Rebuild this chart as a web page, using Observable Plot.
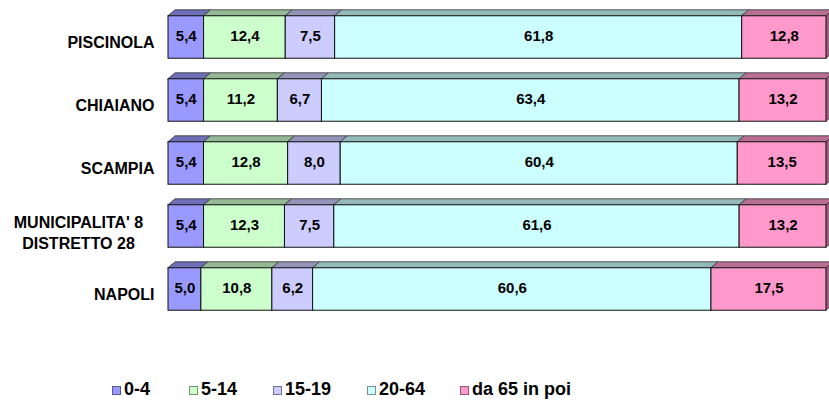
<!DOCTYPE html>
<html><head><meta charset="utf-8">
<script src="https://cdn.jsdelivr.net/npm/d3@7"></script>
<script src="https://cdn.jsdelivr.net/npm/@observablehq/plot@0.6"></script>
<style>
body{margin:0;background:#fff;font-family:"Liberation Sans",Arial,sans-serif;}
#wrap{position:relative;width:829px;height:401px;overflow:hidden;background:#fff;}
#chart svg{display:block;}
.sw{position:absolute;width:9px;height:9px;box-sizing:border-box;border:1px solid #555;}
.lt{position:absolute;font-size:18px;font-weight:bold;line-height:20px;color:#000;white-space:nowrap;}
</style></head><body><div id="wrap"><div id="chart"></div><div id="legend"></div></div>
<script>
const categories = ["PISCINOLA", "CHIAIANO", "SCAMPIA", "MUNICIPALITA' 8\nDISTRETTO 28", "NAPOLI"];
const ageGroups = ["0-4", "5-14", "15-19", "20-64", "da 65 in poi"];
const v0_4   = [5.4, 5.4, 5.4, 5.4, 5.0];
const v5_14  = [12.4, 11.2, 12.8, 12.3, 10.8];
const v15_19 = [7.5, 6.7, 8.0, 7.5, 6.2];
const v20_64 = [61.8, 63.4, 60.4, 61.6, 60.6];
const v65    = [12.8, 13.2, 13.5, 13.2, 17.5];
const colors = ["#9999FF", "#CCFFCC", "#CCCCFF", "#CCFFFF", "#FF99CC"];

const series = [v0_4, v5_14, v15_19, v20_64, v65];
const fmt = v => d3.format(".1f")(v).replace(".", ",");

// style constants (3D depth and bar thickness, in scale units)
const HALF = 0.337, DX = 0.0107, DY = 0.095;

const segs = [];
categories.forEach((c, i) => {
  const total = d3.sum(series, s => s[i]);
  let acc = 0;
  series.forEach((s, j) => {
    const x1 = acc / total; acc += s[i]; const x2 = acc / total;
    segs.push({cat: i, grp: j, value: s[i], x1, x2, y1: i - HALF, y2: i + HALF,
      fill: colors[j], top: d3.color(colors[j]).darker(0.9).formatHex(),
      side: d3.color(colors[j]).darker(1.3).formatHex()});
  });
});
const topPts = segs.flatMap((d, k) => [
  {k, y: d.y1, x1: d.x1, x2: d.x2, fill: d.top},
  {k, y: d.y1 - DY, x1: d.x1 + DX, x2: d.x2 + DX, fill: d.top}
]);
const lastSegs = segs.filter(d => d.grp === series.length - 1);
const sidePts = lastSegs.flatMap(d => [
  {k: d.cat, x: d.x2, y1: d.y2, y2: d.y1, fill: d.side},
  {k: d.cat, x: d.x2 + DX, y1: d.y2 - DY, y2: d.y1 - DY, fill: d.side}
]);
const labels = categories.map((name, i) => ({i, name, multi: name.includes("\n")}));

const FONT = "Liberation Sans, Arial, sans-serif";
const chart = Plot.plot({
  width: 829, height: 362,
  marginLeft: 168, marginRight: 3, marginTop: 5.5, marginBottom: 41.5,
  style: {fontFamily: FONT, background: "#fff"},
  x: {domain: [0, 1], axis: null},
  y: {type: "linear", domain: [-0.5, 4.5], reverse: true, axis: null},
  color: {type: "identity"},
  marks: [
    Plot.areaX(topPts, {y: "y", x1: "x1", x2: "x2", z: "k", fill: "fill", stroke: "#333", strokeWidth: 0.8}),
    Plot.areaY(sidePts, {x: "x", y1: "y1", y2: "y2", z: "k", fill: "fill", stroke: "#333", strokeWidth: 0.8}),
    Plot.rect(segs, {x1: "x1", x2: "x2", y1: "y1", y2: "y2", fill: "fill", stroke: "#111", strokeWidth: 1}),
    Plot.text(segs, {x: d => (d.x1 + d.x2) / 2, y: "cat", text: d => fmt(d.value), dy: -1.5,
      fontSize: 15, fontWeight: "bold", fill: "#000", fontFamily: FONT}),
    Plot.text(labels.filter(d => !d.multi), {y: "i", text: "name", frameAnchor: "left", textAnchor: "end",
      dx: -14, dy: 5, fontSize: 16, fontWeight: "bold", fill: "#000", fontFamily: FONT}),
    Plot.text(labels.filter(d => d.multi), {y: "i", text: "name", frameAnchor: "left", textAnchor: "middle",
      dx: -90, dy: 5, lineHeight: 1.34, fontSize: 16, fontWeight: "bold", fill: "#000", fontFamily: FONT})
  ]
});
document.getElementById("chart").appendChild(chart);

const legendLeft = [112, 189, 273, 367, 460];
const legend = document.getElementById("legend");
ageGroups.forEach((g, j) => {
  const sw = document.createElement("div");
  sw.className = "sw";
  sw.style.left = legendLeft[j] + "px"; sw.style.top = "386px";
  sw.style.background = colors[j];
  sw.style.borderColor = d3.color(colors[j]).darker(1.6).formatHex();
  legend.appendChild(sw);
  const t = document.createElement("div");
  t.className = "lt"; t.textContent = g;
  t.style.left = (legendLeft[j] + 12) + "px"; t.style.top = "379px";
  legend.appendChild(t);
});
</script></body></html>
